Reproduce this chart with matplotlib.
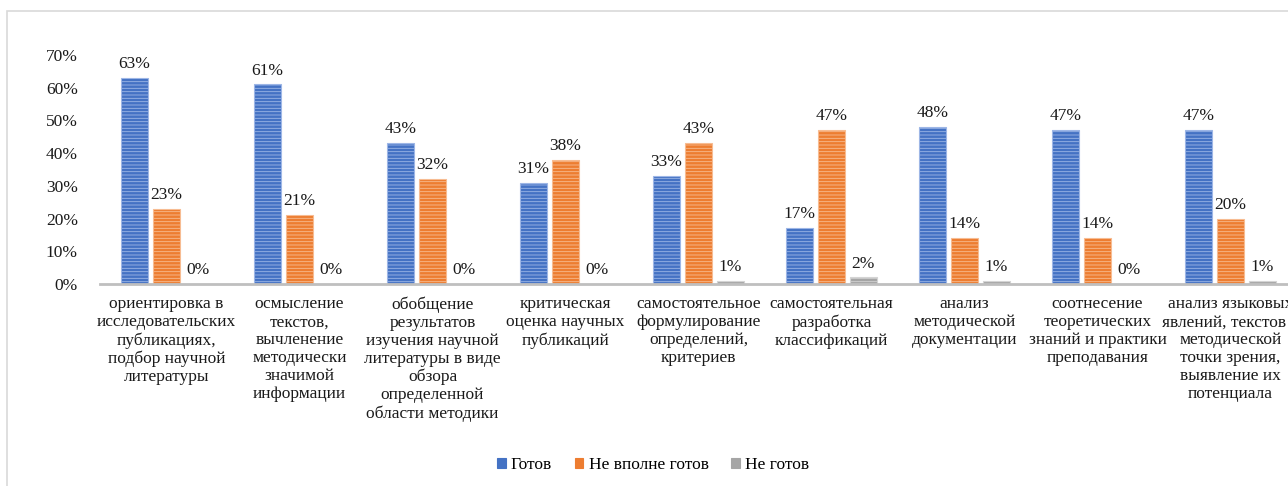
import matplotlib
matplotlib.use("Agg")
import matplotlib.pyplot as plt
import numpy as np
from matplotlib.patches import Rectangle

categories = [
    "ориентировка в\nисследовательских\nпубликациях,\nподбор научной\nлитературы",
    "осмысление\nтекстов,\nвычленение\nметодически\nзначимой\nинформации",
    "обобщение\nрезультатов\nизучения научной\nлитературы в виде\nобзора\nопределенной\nобласти методики",
    "критическая\nоценка научных\nпубликаций",
    "самостоятельное\nформулирование\nопределений,\nкритериев",
    "самостоятельная\nразработка\nклассификаций",
    "анализ\nметодической\nдокументации",
    "соотнесение\nтеоретических\nзнаний и практики\nпреподавания",
    "анализ языковых\nявлений, текстов с\nметодической\nточки зрения,\nвыявление их\nпотенциала",
]
ready = [63, 61, 43, 31, 33, 17, 48, 47, 47]
partly_ready = [23, 21, 32, 38, 43, 47, 14, 14, 20]
not_ready = [0, 0, 0, 0, 1, 2, 1, 0, 1]
series_names = ["Готов", "Не вполне готов", "Не готов"]
yticks = [0, 10, 20, 30, 40, 50, 60, 70]

colors = ["#4472C4", "#ED7D31", "#A5A5A5"]
stripe_colors = ["#9DB6E6", "#F7BC92", "#D4D4D4"]

plt.rcParams["font.family"] = ["Liberation Serif", "DejaVu Serif"]
plt.rcParams["hatch.linewidth"] = 0.6

W, H = 1288, 486
fig = plt.figure(figsize=(W / 100, H / 100), dpi=100)

# Light frame around the chart area
fig.patches.append(Rectangle((7 / W, -0.1), 1.2, 1 - 11 / H + 0.1,
                             transform=fig.transFigure, fill=False,
                             edgecolor="#D9D9D9", linewidth=1.2))

ax = fig.add_axes([100 / W, 202 / H, 9 * 133 / W, 229 / H])

x = np.arange(len(categories))
width = 0.2
offset = 0.24
fs = 12.5
txt = "#1A1A1A"

for i, (vals, name) in enumerate(zip([ready, partly_ready, not_ready], series_names)):
    pos = x + (i - 1) * offset
    ax.bar(pos, vals, width, color=colors[i], edgecolor=stripe_colors[i],
           linewidth=0.8, hatch="-----", label=name)
    for p, v in zip(pos, vals):
        ax.text(p, v + 1.8, f"{v}%", ha="center", va="bottom", fontsize=fs,
                color=txt)

ax.set_xlim(-0.5, len(categories) - 0.5)
ax.set_ylim(0, 70)
ax.set_yticks(yticks)
ax.set_yticklabels([f"{t}%" for t in yticks], fontsize=fs, color=txt)
ax.tick_params(axis="y", length=0, pad=16)
ax.set_xticks(x)
ax.set_xticklabels(categories, fontsize=fs, color=txt, linespacing=1.16,
                   va="top")
ax.tick_params(axis="x", length=0, pad=9)

for s in ["top", "right", "left"]:
    ax.spines[s].set_visible(False)
ax.spines["bottom"].set_color("#BFBFBF")
ax.spines["bottom"].set_linewidth(2)

handles, labels = ax.get_legend_handles_labels()
leg = fig.legend(handles, labels, loc="center", bbox_to_anchor=(653 / W, 1 - 465 / H),
                 ncol=3, frameon=False, fontsize=fs, handlelength=0.5,
                 handleheight=0.5, handletextpad=0.3, columnspacing=1.3)
for h in leg.legend_handles:
    h.set_hatch(None)
    h.set_edgecolor(h.get_facecolor())

fig.savefig("out.png", dpi=100, facecolor="white")
